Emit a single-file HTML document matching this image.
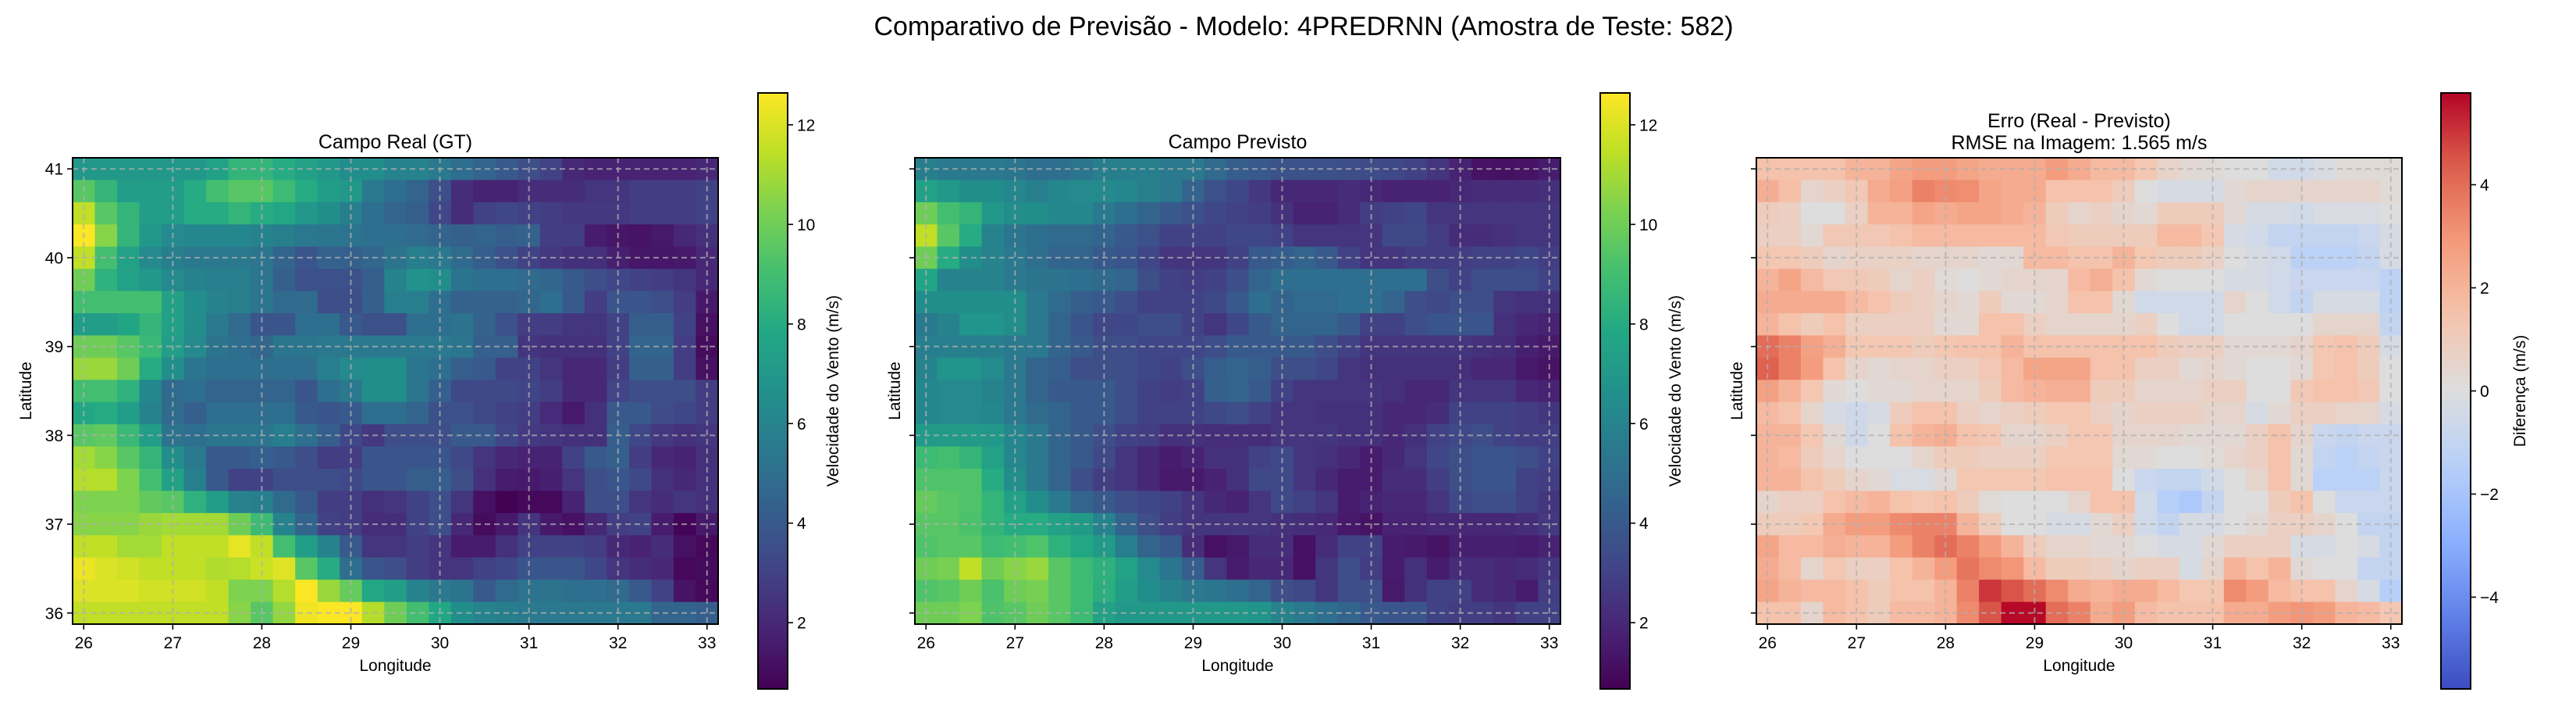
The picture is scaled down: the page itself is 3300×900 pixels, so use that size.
<!DOCTYPE html>
<html><head><meta charset="utf-8"><style>
html,body{margin:0;padding:0;background:#fff;width:3300px;height:900px;overflow:hidden}
svg text{font-family:"Liberation Sans","DejaVu Sans",sans-serif;fill:#000}
</style></head><body>
<svg id="fig" width="3300" height="900" viewBox="0 0 3300 900" xmlns="http://www.w3.org/2000/svg">
<text x="1670" y="45" font-size="34" text-anchor="middle">Comparativo de Previsão - Modelo: 4PREDRNN (Amostra de Teste: 582)</text>
</svg>
<script>
const lonTicks=[26,27,28,29,30,31,32,33];
const latTicks=[36,37,38,39,40,41];
const speedTicks=[2,4,6,8,10,12];
const diffTicks=[-4,-2,0,2,4];
const gtField=[
[7,7,7,7,7,7,7.5,8.5,8.5,8,7.5,7,6.5,6.5,6,6,5.5,5,4.5,4,3.5,3,2,1.8,1.8,1.8,1.8,1.8,2],
[9.5,8.5,7.3,7.3,7.3,8,9,9.5,9.5,8.8,8,7.3,7,5.5,5,4.5,3.5,2.2,1.8,1.8,2.2,2.2,2.2,2.5,2.5,2.8,2.8,2.8,3],
[11.5,9.5,8.5,7.3,7.3,8,8,8.5,8,7.8,7,6.5,5.8,5,4.5,4.2,3.2,2.2,3,3.2,3,2.8,2.6,2.6,2.6,2.8,2.8,2.8,3],
[12.6,10.5,8.5,7,6.3,6.2,6.2,6.2,6,5.8,5.4,5.3,5.2,5,5,4.8,4.5,4.3,4.5,4.2,4.4,2.8,2.8,1.6,1.4,1.3,1.5,2,2.3],
[11.5,9,7.5,6.3,5.8,5.5,5.5,5.5,5.3,4.5,3.8,4.4,4.3,4.6,5.2,5.8,5.5,4.8,4.2,3.6,3,2.6,2.3,2.3,1.7,1.4,1.4,1.5,2],
[10,8.3,7.5,7,6.3,6,5.8,5.8,5.3,4.3,3.6,3.6,3.6,4.2,6,6.7,6.5,5.2,5,5,4.8,4.6,4,3.5,3.2,3,2.8,2.5,2],
[9,9,9,9,7.5,6.5,6,5.8,5.3,4.8,4.8,3.5,3.5,4.3,5.8,5.8,5,4.4,4.4,4.4,4.6,5,4,2.8,3.8,3.8,3.5,2.8,1.5],
[7.3,7.3,7.7,8.5,7.5,6.5,5.5,4.8,3.8,3.8,5,5,4,3.6,3.6,5,5,5.2,4.4,3.6,2.8,2.8,2.5,2.5,3,4.2,4.2,3,1.2],
[10,10,9.5,8.7,7.3,6.3,5.2,5,4.6,5.3,5.3,5.5,5.5,5.5,5.5,5.5,5.5,5.3,4.3,4.3,2.5,2.3,2.3,2.3,3,4.5,4.5,2.8,1],
[10.8,10.8,10,8,6.5,5.3,5,5,5,5,5,5.8,6.3,6.5,6.5,5.3,5,4.2,4,3,3,2.5,2,2,2.8,4.3,4.3,2.8,1.2],
[9,9,8.3,6.2,4.8,5,4.5,4.5,4.5,4.5,3.8,5,5.5,6.5,6.5,5.3,4.3,3.3,3.3,3.3,3.1,2.8,2,2,3.1,3.5,3.5,3.5,2.8],
[7.8,8,7.3,6,4.8,4.3,5,5,5,5,4,3.8,4,5,5,4.5,3.6,3.6,3.3,3,2.8,2.1,1.5,2.3,4,4,3.4,3.2,2.8],
[9.5,9.7,8.7,7.3,5.2,5,5.3,5.3,5.3,5.8,5,4.2,3.2,2.6,3.5,3.5,3.5,4,4,3.2,2.7,2.5,2.3,2.3,4.2,3.2,2.6,2.3,2.5],
[11,10.5,9.5,8.5,6.5,5.5,4,4,4.3,4,3.5,2.8,2.8,3.8,3.8,3.8,3.8,3.3,2.5,2,1.8,1.8,3,4,4.3,2.8,2,1.8,2.3],
[11.3,11.3,10.3,9,7.5,5.8,4,3,3,3.5,3.5,3.5,3.3,3.8,3.8,4.2,4.2,3.5,2.3,1.6,1.5,1.7,2.5,3.5,3.8,3.3,2.3,2,2.3],
[10.3,10.3,10.3,9.7,9.5,8.3,7.3,6,5.8,4.8,4,2.8,2.8,2.3,2.5,3,3.5,2.5,1.2,0.7,0.9,0.9,1.8,3.5,3.5,2.5,2.2,2.5,2.3],
[10.5,10.5,10.5,10.8,11,11,11,10,8.8,6,4.5,3,2.8,2.2,2.2,3,3.5,2,1,1.5,2.5,1.5,1.2,2,2.8,3,1.6,0.8,1.5],
[11.5,11.5,11,11,11.5,11.5,11.5,12.2,11.5,9,7.3,6,4,2.5,2.5,2.8,2.5,1.6,1.6,2.3,3,3,3,2.8,2,1.8,2.2,1.2,0.9],
[12.3,12,11.8,11.5,11.5,11.5,11.2,11.3,11.7,12.1,9.5,8,5,3.8,3.5,2.8,2.5,2.5,3,3.2,3.8,3.8,3.8,3.2,2.5,2.2,2,0.9,1],
[12,12,12,11.8,11.8,11.8,11.5,10.3,10.3,11.3,12.6,10.8,9.8,7.8,7.3,6,5.5,5.2,4,4.8,5.2,5.2,5,5,4.8,4,3,1.3,0.9],
[11.5,11.5,11.5,11.5,11.5,11.5,11.5,10.5,9.5,10.7,12.4,12.6,12.6,11.3,10,9,7.8,6.5,6,5.8,5.5,5.5,5.5,5.5,5.5,5.5,4.5,4.5,4.2]
];
const predField=[
[5.8,5.5,5.5,5.5,5.3,5,5,5.3,5.8,5.8,5.8,5.5,5.5,4.8,4.2,4,3.7,3.7,3.6,3.5,3.4,3.3,3,2.5,1.8,1.3,1.2,1.3,1.6],
[7.5,7,6.5,6.5,6.2,5.8,6.2,6.3,6.3,6.2,5.8,5.5,4.5,3.6,3.2,2.6,2,2,2,2.2,2,1.8,1.8,1.8,2,2.2,2.2,2.2,2.3],
[10,9,8.5,7,6.5,6.5,6.2,6.2,5.5,5,4.5,4,3.6,3.2,3,2.8,2.4,1.8,1.8,2.2,2.8,3,3.2,2.5,2.5,2.5,2.5,2.5,2.5],
[11.5,9.5,8,6,5.3,5,4.8,4.8,4.5,4,3.6,3,3,3,3.2,3.2,3,2.5,2.5,2.5,2.5,3.3,3.3,2.8,2.2,2.2,2.3,2.5,2.5],
[10,8,6.5,6,5.5,5,4.5,4.5,4,3.8,3.2,2.5,2.5,2.5,3,4,4.2,4.5,4,3,2.5,2.5,2.8,2.8,2.8,3,3,3.2,2.8],
[7.7,6,6,6,5.5,5.2,5.2,5,4.8,4.5,3.5,3,2.8,3,3.5,4.5,5,5,5,5,5,5,5,3.5,3,3.5,3.5,3.5,3],
[6.5,6.5,6.5,6.5,6.5,5.5,4.8,4.2,4,3.5,3,3,3,3.3,4,5,4.5,4.8,4.8,5,5,4.5,3.5,3.3,3.5,3.5,2.5,2.3,2.3],
[5.5,6,6.8,6.8,6.5,5.5,4.5,3.8,3.2,3.2,3.5,3.5,3,2.5,3.2,4,4.5,4.5,4.5,4,3,3,3.5,3.8,3.8,3.8,2.3,2,1.8],
[5.8,5.8,5.8,5.8,5.5,5.5,4.5,4,3.5,3.5,3.2,3.2,3.2,3.5,4,4,4,4,3.5,3,2.5,2.5,2.5,2.5,2.5,2.3,2.2,1.7,1.5],
[6,6.8,6.8,6.3,5.5,4.5,4.2,3.5,3.5,3.5,3.2,3,3.5,4.2,4.5,4.2,3.5,3.5,3.2,2.5,2.3,2.3,2.3,2.3,2.3,2,2,1.5,1.3],
[6.2,6.3,6.3,6,5.5,4.5,4,4,4,3.5,3,2.8,3,4.3,4.5,4,3,2.5,2.5,2.5,2.5,2.3,2,2,2.5,2.5,2.5,2,1.8],
[6.2,6.3,6.3,6.2,5.5,4.8,4.5,4,4,3.5,3,3,3,3.3,3.5,3,2.5,2.5,2.3,2.3,2.3,2,2,2.2,3,3,3,2.8,2.5],
[7.2,7.2,7.2,7,6.2,5.5,4.5,4,3.5,3,2.8,2.3,2.3,2.2,2.2,2.2,2.5,2.5,2.5,2.3,2.3,2,2.3,3,3.3,3.5,3,2.8,2.8],
[8.8,9,8.5,7.5,6.2,5.5,4.5,4,3.3,2.5,2,1.6,1.8,2.3,2.3,3,3.3,2.5,2.3,2,1.6,2,2.5,3.2,3.5,3.8,3.8,3.5,3],
[9.3,9.3,9.3,8,6.5,5.5,4.5,3.5,2.8,2.5,2,1.5,1.5,1.8,2.3,3.3,3.3,2.5,2,1.6,1.6,2.2,2.2,2.8,3.5,3.8,3.8,3,2.8],
[9.8,9.5,9.3,8.5,7.5,6.5,5.5,4.5,4,3.5,3.2,3,2.5,2,1.8,2.5,3.3,3,2.5,1.6,1.8,2,2,2.5,3.3,3.5,3.5,3,2.5],
[9.5,9.5,9.2,8.5,8,8,7.5,7.2,6,4.5,3.5,2.8,2.5,2.5,2.5,2.5,2.3,2.2,2,1.5,1.3,1.8,1.8,2,2,2,2,2.2,2.6],
[9.3,9.5,9.5,8.8,9,9.3,8.3,7.8,7.2,5.8,4.5,4,2.2,1.2,1.5,2.2,2.2,1.2,2.2,3,3,1.6,1.5,1.3,1.7,1.7,1.7,1.6,1.8],
[10,10.2,11.5,10,10.5,10.8,9.5,8.8,8.3,7.5,6.3,5.3,4.2,2.5,1.6,2,2,1.2,2.5,3.5,2.8,1.6,2.3,1.6,2.2,2.2,2,2.2,2.5],
[9.3,9.5,10,9.2,10,10.2,9.5,8.8,8.2,7.3,6.5,6,5.5,5.3,5,4.5,3.5,3.3,2.5,3.5,3.5,1.5,2.3,3,3,2.2,2,1.6,2.8],
[10,10,10.3,9.3,9.5,10,9.5,8.8,7.5,7,7,7,7,7,7,6.8,6,5.5,5,4.5,4,3.8,3.8,3,2.8,2.8,2.5,3,3]
];
const errField=[
[1.5,1.5,1.5,1.5,2,2,2.5,2.8,2.8,2.5,2.3,2.3,2.3,2.8,2.3,1.8,1.8,1.3,0.6,0.3,0.2,0,0,-0.5,-0.5,-0.2,0.2,0.2,0.2],
[2.2,1.6,0.5,0.8,1.2,2.3,2.7,3.5,3.3,3.2,2.5,2.3,2.3,1.5,1.5,1.5,1,0,-0.3,-0.3,-0.3,0.3,0.5,0.5,0.5,0.5,0.5,0.5,0.2],
[1,0.8,0,0,0.8,2,2,2.5,2.3,2.5,2.5,2.3,2,1,0.5,0.8,0.5,0.3,1,1,1,0.3,-0.3,-0.3,-0.5,-0.2,-0.2,-0.2,0],
[0.8,0.8,0.3,1.2,1.2,1.2,1.5,1.8,1.8,1.8,1.8,1.8,1.8,1.2,1,1,1,1,1.8,1.8,1.3,-0.3,-0.5,-1,-1,-1,-1,-0.8,-0.3],
[1.3,1.3,1,0.5,0.7,0.7,0.7,0.5,0.5,0.5,0.3,0.3,1.8,1.8,1.5,1.5,2,1.3,1,1,0.7,0,-0.3,-0.5,-1.3,-1.3,-1.3,-1,-0.3],
[2,2.5,1.8,1.2,1.2,1,0.5,0.8,0.2,0,0.3,0.5,0.5,0.5,1.8,2.2,1.5,0.3,0,0,0,-0.3,-0.3,-0.5,-0.8,-0.8,-0.8,-0.8,-1.2],
[2.3,2.3,2.3,2.3,1.8,1.5,1,0.8,0.5,0.3,1,0.3,0.3,0.5,1.5,1.5,0.3,-0.5,-0.5,-0.5,-0.5,0.5,0,-0.5,-1,-0.3,-0.3,-0.3,-1.2],
[2,1.5,1,1.5,0.8,0.8,0.8,0.8,0.3,0.3,1.5,1.5,0.8,0.5,0.5,0.5,0.5,0.8,0,-0.5,-0.5,0,0,0,0,0.5,0.5,0.5,-1],
[4,3.5,2.7,2.2,1.3,1.3,1.3,1,1.3,1.5,1.5,2,1.5,1.5,1.5,1.5,1.5,1.5,1,0.8,0.8,0.3,0.3,0.3,0.5,1.3,1.5,1,-0.3],
[4.3,3.5,2.8,1.5,0.5,0.3,0.5,0.5,0.8,0.8,1.2,1.8,2.5,2.5,2.5,1.5,1.5,0.8,0.8,0.3,0.5,0.3,0,0,0.3,1.3,1.5,1,0],
[2.7,2,1.3,0.3,0,0.3,0.3,0.5,0.5,0.5,1,1.8,2,2.2,2.2,1,1,0.5,0.5,0.5,0.8,0.8,0,0,1.2,1.5,1.5,1.2,0],
[1.8,1.5,0.5,-0.3,-0.6,-0.3,1,1.5,1.5,0.8,0.5,0.8,1,1.3,1.3,0.8,0.5,0.8,0.8,0.8,0.5,0.5,-0.3,0.3,0.8,0.8,0.6,0.5,-0.3],
[2,2,1.3,0.3,-0.6,0,1.5,2,2.2,1.5,1.3,0.5,0.5,0.8,1.3,1.3,0.5,0.5,0.5,0.3,0.3,0.3,0.8,1.5,0.5,-0.8,-1,-0.8,-0.8],
[2,1.8,1,0.5,0,0,0,0.5,1,1,0.8,0.8,0.8,1.3,1.3,1.3,0.3,0.3,0,0,0.2,0.5,0.8,1.5,0.3,-1,-1.3,-1,-0.8],
[2,2,1.5,1,0.5,0.3,-0.2,-0.2,0.3,1.3,1.3,1.3,1.3,1.5,1.5,1.5,0,-0.8,-1,-1,-0.5,0,0.5,1.5,0.3,-1.3,-1.3,-1.3,-0.8],
[0.5,0.8,0.8,1.5,1.8,2,1.5,1.3,1.5,1,0.2,0,0,0,0.5,1.5,1.5,-0.5,-1.5,-1.8,-1,0,0,1,1.5,0,-0.8,-0.8,-0.8],
[1,1,1.3,2.3,2.8,2.8,3.3,3.5,3.5,2,1,0,0,-0.3,-0.3,0.3,0.8,-0.5,-1,-0.3,-0.3,0,0.3,0.8,0.8,0.5,0,-1,-1],
[2.5,1.8,1.8,2.2,2,2,2.8,3.5,4,3.5,2.8,2,1,0.5,0.5,0.3,0.3,0,-0.3,-0.3,0.3,0.8,0.8,0.8,-0.3,-0.3,0,-0.3,-1],
[2.3,1.8,0.5,1.3,0.8,0.8,1.5,2,2.8,3.8,3.3,3,1.8,1,1,0.8,0.5,0.8,0.8,-0.3,0.5,2,1.5,2,0.3,0,0,-1,-1],
[2.5,2,1.8,1.8,1.5,1,1.5,1.5,2,3.5,5,4.5,4,3.3,2.3,2,2.3,2.3,1.8,1.3,1.3,3.3,2.8,1.8,1.5,1.5,0.5,-0.3,-1.5],
[1.5,1.5,0.5,1.8,1.5,1,1.8,1.8,2,3.3,4.5,5.7,5.7,4,3.5,2.3,2.8,1.8,1.5,1.5,1.5,2.3,2.3,2.8,3,2.8,2,1.8,1.3]
];
const NS='http://www.w3.org/2000/svg';
const svg=document.getElementById('fig');
const VIR=[[68,1,84],[72,36,117],[65,68,135],[53,95,141],[42,120,142],[33,145,140],[34,168,132],[68,191,112],[122,209,81],[189,223,38],[253,231,37]];
const CW=[[59,76,192],[98,130,234],[141,176,254],[184,208,249],[221,221,221],[245,196,173],[244,154,123],[222,96,77],[180,4,38]];
function cmap(stops,t){t=Math.max(0,Math.min(1,t));const n=stops.length-1;const f=t*n;const i=Math.min(n-1,Math.floor(f));const u=f-i;const a=stops[i],b=stops[i+1];return 'rgb('+a.map((v,k)=>Math.round(v+(b[k]-v)*u)).join(',')+')';}
function mk(tag,attrs,parent){const e=document.createElementNS(NS,tag);for(const k in attrs)e.setAttribute(k,attrs[k]);(parent||svg).appendChild(e);return e;}
const TOP=202,H=597,W=827,CBT=119,CBH=763;
const LON0=25.875,LON1=33.125,LAT0=35.875,LAT1=41.125;
function panel(opt){
  const L=opt.left;
  const xs=lon=>L+(lon-LON0)/(LON1-LON0)*W;
  const ys=lat=>TOP+(LAT1-lat)/(LAT1-LAT0)*H;
  const g=mk('g',{});
  
  
  const cells=mk('g',{},g);
  
  
  opt.data.forEach((row,j)=>row.forEach((v,i)=>{
    const lon=26+0.25*i, lat=41-0.25*j;
    const x0=xs(lon-0.125),x1=xs(lon+0.125),y0=ys(lat+0.125),y1=ys(lat-0.125);
    const r=mk('rect',{x:x0.toFixed(2),y:y0.toFixed(2),width:(x1-x0+0.6).toFixed(2),height:(y1-y0+0.6).toFixed(2),fill:cmap(opt.stops,(v-opt.vmin)/(opt.vmax-opt.vmin))},cells);
    
    
  }));
  lonTicks.forEach(t=>{
    const x=xs(t);
    const gl=mk('line',{x1:x,x2:x,y1:TOP,y2:TOP+H,stroke:'#b0b0b0','stroke-width':2,'stroke-dasharray':'7,5',opacity:0.75},g);
    
    
    mk('line',{x1:x,x2:x,y1:TOP+H,y2:TOP+H+7,stroke:'#000','stroke-width':1.6},g);
    const tl=mk('text',{x:x,y:TOP+H+31,'font-size':21,'text-anchor':'middle'},g);tl.textContent=t;
    
    
  });
  latTicks.forEach(t=>{
    const y=ys(t);
    const gl=mk('line',{x1:L,x2:L+W,y1:y,y2:y,stroke:'#b0b0b0','stroke-width':2,'stroke-dasharray':'7,5',opacity:0.75},g);
    
    
    mk('line',{x1:L-7,x2:L,y1:y,y2:y,stroke:'#000','stroke-width':1.6},g);
    if(opt.yLabels){const tl=mk('text',{x:L-12,y:y+7.5,'font-size':21,'text-anchor':'end'},g);tl.textContent=t;
      
      }
  });
  const fr=mk('rect',{x:L,y:TOP,width:W,height:H,fill:'none',stroke:'#000','stroke-width':2},g);
  
  
  opt.title.forEach((s,k)=>{const t=mk('text',{x:L+W/2,y:opt.titleY+k*28,'font-size':25,'text-anchor':'middle'},g);t.textContent=s;
    
    });
  const xl=mk('text',{x:L+W/2,y:TOP+H+60,'font-size':21,'text-anchor':'middle'},g);xl.textContent='Longitude';
  
  
  const yl=mk('text',{x:0,y:0,'font-size':21,'text-anchor':'middle',transform:'translate('+opt.ylabX+','+(TOP+H/2)+') rotate(-90)'},g);yl.textContent='Latitude';
  
  
  // colorbar
  const cb=mk('g',{},g);
  
  
  const id='grad-'+opt.name;
  const defs=mk('defs',{},cb);
  const lg=mk('linearGradient',{id:id,x1:0,y1:1,x2:0,y2:0},defs);
  for(let k=0;k<=20;k++)mk('stop',{offset:k/20,'stop-color':cmap(opt.stops,k/20)},lg);
  mk('rect',{x:opt.cbx,y:CBT,width:38,height:CBH,fill:'url(#'+id+')',stroke:'#000','stroke-width':2},cb);
  const cys=v=>CBT+CBH-(v-opt.vmin)/(opt.vmax-opt.vmin)*CBH;
  opt.ticks.forEach(t=>{const y=cys(t);
    mk('line',{x1:opt.cbx+38,x2:opt.cbx+45,y1:y,y2:y,stroke:'#000','stroke-width':1.6},cb);
    const tl=mk('text',{x:opt.cbx+50,y:y+7.5,'font-size':21},cb);tl.textContent=String(t).replace('-','\u2212');
    
    });
  const cl=mk('text',{x:0,y:0,'font-size':21,'text-anchor':'middle',transform:'translate('+opt.cblabX+','+(CBT+CBH/2)+') rotate(-90)'},cb);cl.textContent=opt.cblab;
  
  
}
panel({name:'ground-truth-panel',left:93,data:gtField,stops:VIR,vmin:0.67,vmax:12.64,title:['Campo Real (GT)'],titleY:190,yLabels:true,ylabX:40,cbx:971,ticks:speedTicks,cblab:'Velocidade do Vento (m/s)',cblabX:1074});
panel({name:'predicted-panel',left:1172,data:predField,stops:VIR,vmin:0.67,vmax:12.64,title:['Campo Previsto'],titleY:190,yLabels:false,ylabX:1153,cbx:2050,ticks:speedTicks,cblab:'Velocidade do Vento (m/s)',cblabX:2153});
panel({name:'error-panel',left:2250,data:errField,stops:CW,vmin:-5.78,vmax:5.78,title:['Erro (Real - Previsto)','RMSE na Imagem: 1.565 m/s'],titleY:163,yLabels:false,ylabX:2232,cbx:3127,ticks:diffTicks,cblab:'Diferença (m/s)',cblabX:3235});
</script>
</body></html>
